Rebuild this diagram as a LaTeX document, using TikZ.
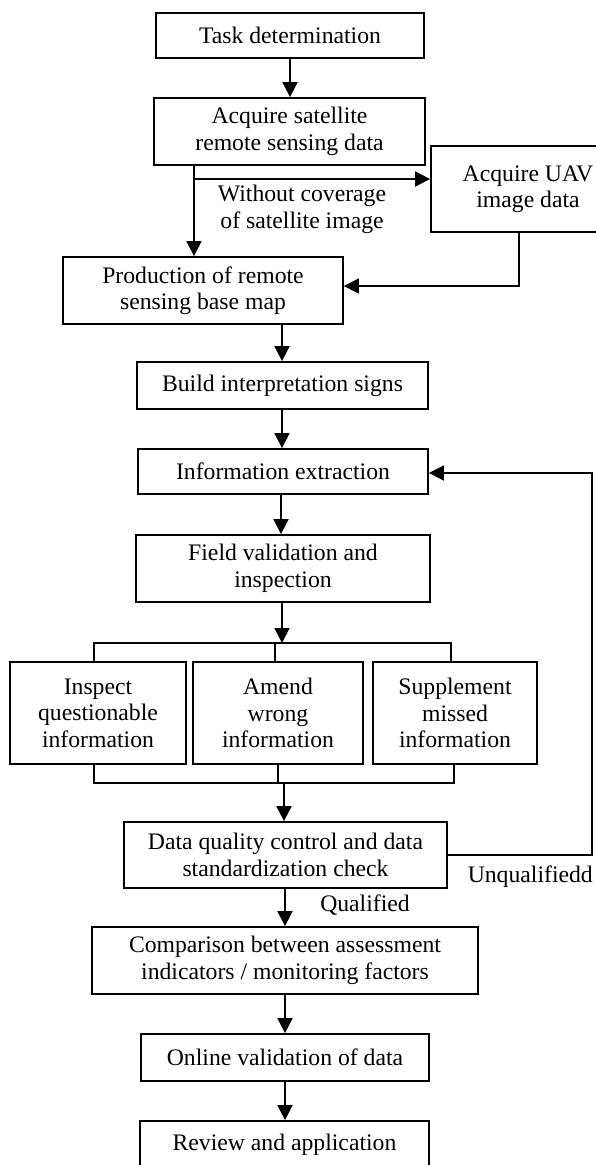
\documentclass[tikz,border=0pt]{standalone}
\usepackage{fontspec}
\setmainfont{Liberation Serif}
\usetikzlibrary{arrows.meta}
\begin{document}
\begin{tikzpicture}[x=1pt,y=-1pt,
  box/.style={draw,line width=1.8pt,inner sep=0pt,align=center,font=\fontsize{23.7}{26.5}\selectfont},
  lbl/.style={inner sep=0pt,align=center,font=\fontsize{23.7}{26.5}\selectfont},
  arr/.style={line width=1.8pt,-{Triangle[length=15pt,width=15pt]}},
  ln/.style={line width=1.8pt}]
\useasboundingbox (0,0) rectangle (595,1165);
% boxes
\node[box,minimum width=268pt,minimum height=45pt] (task) at (290,35.5) {Task determination};
\node[box,minimum width=271pt,minimum height=67pt] (sat) at (289.5,131.5) {Acquire satellite\\remote sensing data};
\node[box,minimum width=194pt,minimum height=86pt] (uav) at (528,189) {Acquire UAV\\image data};
\node[box,minimum width=280pt,minimum height=67pt] (prod) at (203,290.5) {Production of remote\\sensing base map};
\node[box,minimum width=291pt,minimum height=47pt] (build) at (282.5,385.5) {Build interpretation signs};
\node[box,minimum width=290pt,minimum height=45pt] (info) at (283,471.5) {Information extraction};
\node[box,minimum width=294pt,minimum height=67pt] (field) at (283,568.5) {Field validation and\\inspection};
\node[box,minimum width=176pt,minimum height=102pt] (insp) at (98,713) {Inspect\\questionable\\information};
\node[box,minimum width=170pt,minimum height=102pt] (amend) at (278,713) {Amend\\wrong\\information};
\node[box,minimum width=164pt,minimum height=102pt] (supp) at (455,713) {Supplement\\missed\\information};
\node[box,minimum width=323pt,minimum height=66pt] (dq) at (285.5,855) {Data quality control and data\\standardization check};
\node[box,minimum width=386pt,minimum height=67pt] (comp) at (285,960.5) {Comparison between assessment\\indicators / monitoring factors};
\node[box,minimum width=288pt,minimum height=47pt] (online) at (285,1057.5) {Online validation of data};
\node[box,minimum width=289pt,minimum height=47pt] (review) at (284.5,1144.5) {Review and application};
% labels
\node[lbl] (lwc) at (302,209.5) {Without coverage\\of satellite image};
\node[lbl] (lq) at (365,905) {Qualified};
\node[lbl,anchor=east] (lu) at (593,877) {Unqualifiedd};
% coordinates
\coordinate (br) at (194,179);
\coordinate (u1) at (519,286);
\coordinate (s1) at (282,643);
\coordinate (m1) at (284,783);
\coordinate (fb) at (592,855);
% connectors
\draw[arr] (task.south -| 290,0) -- (sat.north -| 290,0);
\draw[arr] (br |- sat.south) -- (br |- prod.north);
\draw[arr] (br) -- (br -| uav.west);
\draw[arr] (u1 |- uav.south) -- (u1) -- (u1 -| prod.east);
\draw[arr] (prod.south -| 282,0) -- (build.north -| 282,0);
\draw[arr] (build.south -| 282,0) -- (info.north -| 282,0);
\draw[arr] (info.south -| 281,0) -- (field.north -| 281,0);
\draw[arr] (s1 |- field.south) -- (s1);
\draw[ln] (94,662) -- (94,643) -- (451,643) -- (451,662);
\draw[ln] (275,643) -- (275,662);
\draw[ln] (94,764) -- (94,783) -- (454,783) -- (454,764);
\draw[ln] (278,764) -- (278,783);
\draw[arr] (m1) -- (m1 |- dq.north);
\draw[arr] (dq.south -| 285,0) -- (comp.north -| 285,0);
\draw[arr] (comp.south -| 285,0) -- (online.north -| 285,0);
\draw[arr] (online.south -| 285,0) -- (review.north -| 285,0);
\draw[arr] (fb -| dq.east) -- (fb) -- (592,473) -- (info.east |- 0,473);
\end{tikzpicture}
\end{document}
